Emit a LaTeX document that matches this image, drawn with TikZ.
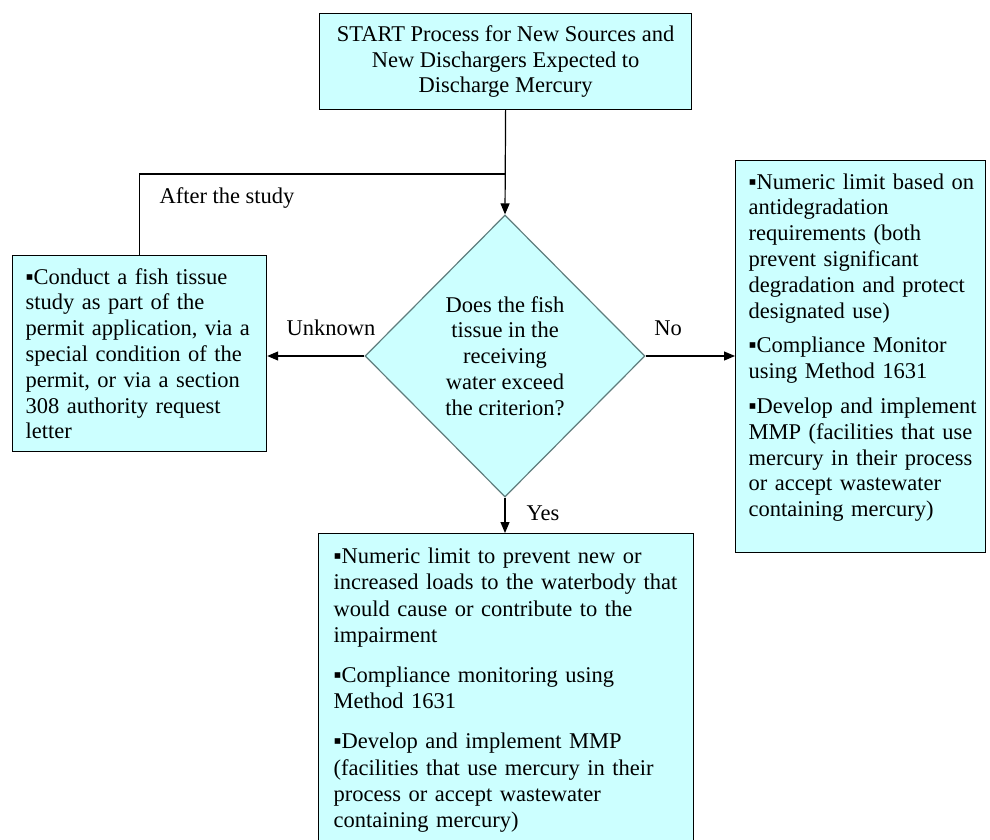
\documentclass[tikz,border=0pt]{standalone}
\usepackage{fontspec}
\setmainfont{Liberation Serif}
\usetikzlibrary{arrows.meta,shapes.geometric}
\definecolor{boxfill}{RGB}{204,255,255}
\definecolor{diaedge}{RGB}{95,125,125}
\newcommand\boxfont{\fontsize{22.5}{25.8}\selectfont\hyphenpenalty=10000\exhyphenpenalty=10000 }
\tikzset{
  box/.style={draw=black, line width=1.2pt, fill=boxfill, font=\boxfont,
              inner xsep=13pt, inner ysep=0pt},
  dia/.style={draw=diaedge, line width=1.2pt, fill=boxfill, shape=diamond,
              font=\boxfont, inner sep=0pt, align=center},
  lab/.style={font=\boxfont, inner sep=0pt},
  link/.style={draw=black, line width=1.2pt},
  arr/.style={link, -{Triangle[length=11pt,width=9pt]}},
}
\begin{document}
\begin{tikzpicture}[x=1pt, y=-1pt]
  \useasboundingbox (0,0) rectangle (990,840);
  \fill[white] (0,0) rectangle (990,840);

  % start box
  \node[box, anchor=north west, minimum width=372pt, minimum height=96pt, align=center]
    (start) at (319,13)
    {START Process for New Sources and\\New Dischargers Expected to\\Discharge Mercury};

  % decision
  \node[dia, minimum width=280pt, minimum height=282pt] (q) at (505,356)
    {Does the fish\\tissue in the\\receiving\\water exceed\\the criterion?};

  % study box (left)
  \node[box, anchor=north west, minimum height=196pt, text width=228pt, align=left]
    (study) at (12,255)
    {▪Conduct a fish tissue\\study as part of the\\permit application, via a\\special condition of the\\permit, or via a section\\308 authority request\\letter};

  % outcome "No" (right)
  \node[box, anchor=north west, inner xsep=4pt, text height=28.5pt, text depth=363.5pt,
        text width=242pt, align=left]
    (nobox) at (735,160)
    {\leftskip=9pt
     ▪Numeric limit based on\\antidegradation\\requirements (both\\prevent significant\\degradation and protect\\designated use)\\[9pt]
     ▪Compliance Monitor\\using Method 1631\\[9pt]
     ▪Develop and implement\\MMP (facilities that use\\mercury in their process\\or accept wastewater\\containing mercury)\par};

  % outcome "Yes" (bottom)
  \node[box, anchor=north west, inner xsep=15pt, text height=30pt, text depth=320pt,
        text width=345pt, align=left]
    (yesbox) at (318,533)
    {\fontsize{22.5}{26.2}\selectfont
     ▪Numeric limit to prevent new or\\increased loads to the waterbody that\\would cause or contribute to the\\impairment\\[14pt]
     ▪Compliance monitoring using\\Method 1631\\[14pt]
     ▪Develop and implement MMP\\(facilities that use mercury in their\\process or accept wastewater\\containing mercury)\par};

  % connectors
  \coordinate (loop) at (505,174);
  \draw[arr] (start.south) -- (q.north);
  \draw[link] (study.north) |- (loop);
  \draw[arr] (q.west) -- (q.west -| study.east);
  \draw[arr] (q.east) -- (q.east -| nobox.west);
  \draw[arr] (q.south) -- (q.south |- yesbox.north);

  % connector labels
  \node[lab] (after) at (227,198) {After the study};
  \node[lab] (unknown) at (331,328) {Unknown};
  \node[lab] (no) at (668,328) {No};
  \node[lab] (yes) at (543,513) {Yes};
\end{tikzpicture}
\end{document}
